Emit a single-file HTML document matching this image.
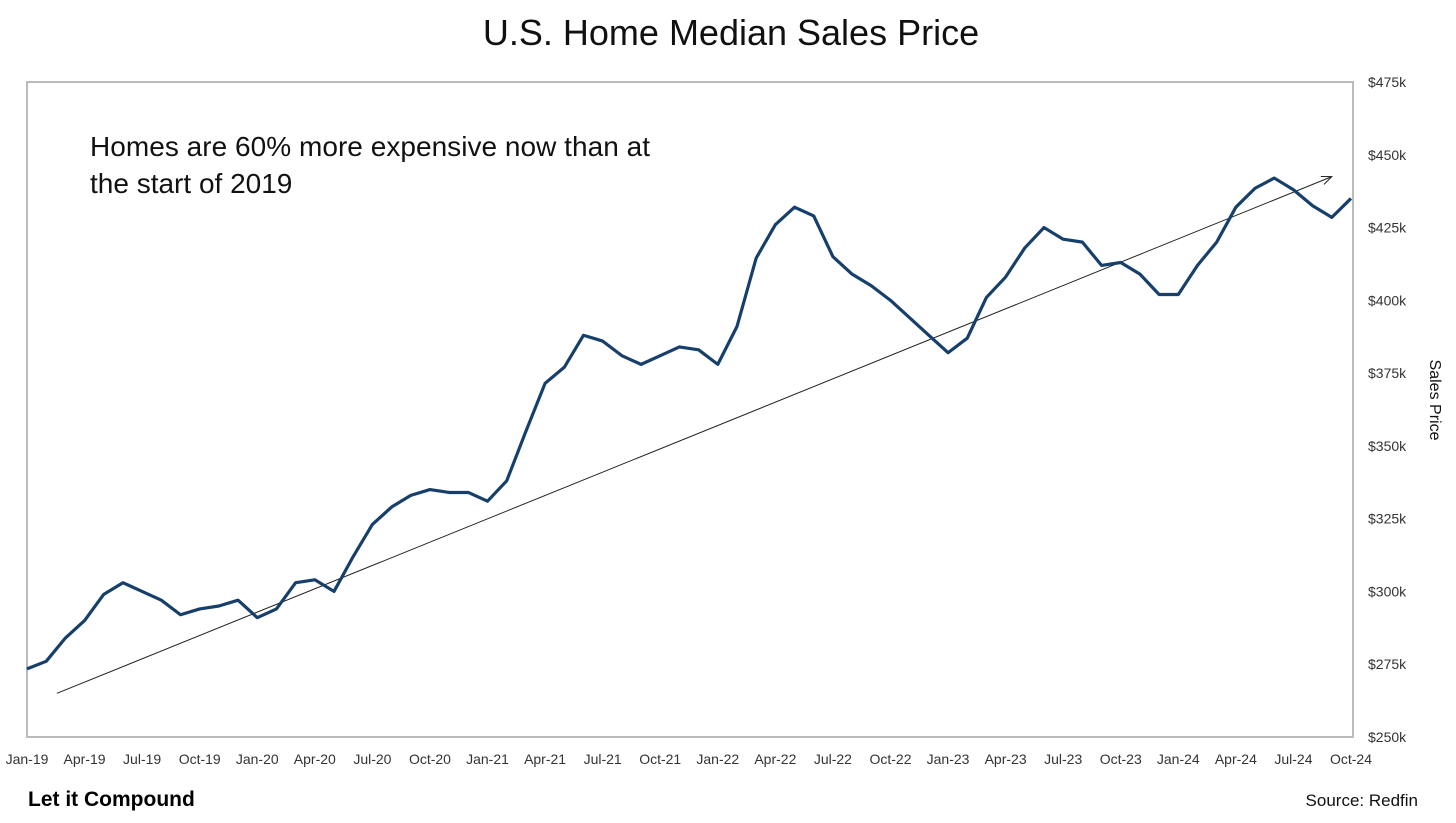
<!DOCTYPE html>
<html><head><meta charset="utf-8"><style>
body{margin:0;background:#fff;width:1456px;height:823px;overflow:hidden;font-family:"Liberation Sans",sans-serif}
svg{display:block}
</style></head><body>
<svg width="1456" height="823" id="c">
<text x="731" y="45" text-anchor="middle" font-size="36" fill="#111">U.S. Home Median Sales Price</text>
<rect x="27" y="82" width="1326" height="655" fill="#fff" stroke="#bbb" stroke-width="2"/>
<text x="90" y="156" font-size="28" textLength="560" fill="#111">Homes are 60% more expensive now than at</text>
<text x="90" y="193" font-size="28" fill="#111">the start of 2019</text>
<text transform="translate(1430,400) rotate(90)" text-anchor="middle" font-size="16" fill="#111">Sales Price</text>
<text x="28" y="806" font-size="21" font-weight="bold" fill="#000">Let it Compound</text>
<text x="1418" y="806" text-anchor="end" font-size="17" fill="#111">Source: Redfin</text>
<g id="yt"></g><g id="xt"></g><g id="marks"></g>
</svg>
<script>
const yTicks=[250,275,300,325,350,375,400,425,450,475];
const xLabels=["Jan-19","Apr-19","Jul-19","Oct-19","Jan-20","Apr-20","Jul-20","Oct-20","Jan-21","Apr-21","Jul-21","Oct-21","Jan-22","Apr-22","Jul-22","Oct-22","Jan-23","Apr-23","Jul-23","Oct-23","Jan-24","Apr-24","Jul-24","Oct-24"];
const prices=[273.4,276,284,290,299,303,300,297,292,294,295,297,291,294,303,304,300,312,323,329,333,335,334,334,331,338,355,371.5,377,388,386,381,378,381,384,383,378,391,414.5,426,432,429,415,409,405,400,394,388,382,387,401,408,418,425,421,420,412,413,409,402,402,412,420,432,438.5,442,438,432.5,428.5,435];
const trendStart=[1.56,265];
const trendEnd=[68.0,442.5];
const ns="http://www.w3.org/2000/svg";
const X0=27,X1=1351,Y0=737,Y1=82;
const xs=i=>X0+(X1-X0)*i/69;
const ys=v=>Y0-(v-250)*(Y0-Y1)/225;
const yt=document.getElementById('yt'),xt=document.getElementById('xt'),mk=document.getElementById('marks');
yTicks.forEach(v=>{const t=document.createElementNS(ns,'text');


t.setAttribute('x',1368);t.setAttribute('y',ys(v)+5);t.setAttribute('font-size','14');t.setAttribute('fill','#333');t.textContent='$'+v+'k';yt.appendChild(t);});
xLabels.forEach((l,i)=>{const t=document.createElementNS(ns,'text');


t.setAttribute('x',xs(i*3));t.setAttribute('y',764);t.setAttribute('text-anchor','middle');t.setAttribute('font-size','14');t.setAttribute('fill','#333');t.textContent=l;xt.appendChild(t);});
const tl=document.createElementNS(ns,'line');


const x1=xs(trendStart[0]),y1=ys(trendStart[1]),x2=xs(trendEnd[0]),y2=ys(trendEnd[1]);
tl.setAttribute('x1',x1);tl.setAttribute('y1',y1);tl.setAttribute('x2',x2);tl.setAttribute('y2',y2);tl.setAttribute('stroke','#222');tl.setAttribute('stroke-width','1');mk.appendChild(tl);
const a=Math.atan2(y2-y1,x2-x1),L=11;
const ah=document.createElementNS(ns,'polyline');


ah.setAttribute('points',`${x2-L*Math.cos(a-0.4)},${y2-L*Math.sin(a-0.4)} ${x2},${y2} ${x2-L*Math.cos(a+0.4)},${y2-L*Math.sin(a+0.4)}`);
ah.setAttribute('fill','none');ah.setAttribute('stroke','#222');mk.appendChild(ah);
const p=document.createElementNS(ns,'polyline');


p.setAttribute('points',prices.map((v,i)=>xs(i)+','+ys(v)).join(' '));
p.setAttribute('fill','none');p.setAttribute('stroke','#173f6b');p.setAttribute('stroke-width','3.2');p.setAttribute('stroke-linejoin','round');mk.appendChild(p);
</script>
</body></html>
